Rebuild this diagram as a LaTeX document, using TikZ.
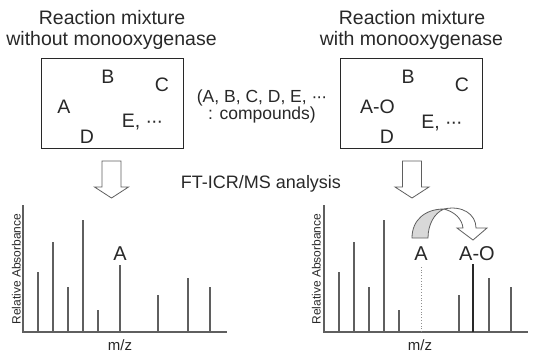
\documentclass[tikz,border=0pt]{standalone}
\usepackage{fontspec}
\setmainfont{Liberation Sans}
\definecolor{inkgray}{RGB}{40,40,40}
\definecolor{linegray}{RGB}{95,95,95}
\definecolor{fillgray}{RGB}{216,216,216}

\begin{document}
\begin{tikzpicture}[x=1pt,y=-1pt,
		lbl/.style={text=inkgray, inner sep=0pt, anchor=base},
		title/.style={lbl, font=\fontsize{19.5}{21}\selectfont},
		cmpd/.style={lbl, font=\fontsize{19.5}{21}\selectfont},
		note/.style={lbl, font=\fontsize{17.5}{18}\selectfont},
		peak/.style={lbl, font=\fontsize{20}{21}\selectfont},
		axislbl/.style={lbl, font=\fontsize{12}{13}\selectfont},
		mixbox/.style={draw=inkgray, line width=1pt, minimum width=142pt, minimum height=90pt, inner sep=0pt},
		bar/.style={linegray, line width=1.6pt},
		axis/.style={linegray, line width=1.8pt}]
		\useasboundingbox (0,0) rectangle (535,360);
		% titles
		\node[title] (titleL1) at (112,24) {Reaction mixture};
		\node[title] (titleL2) at (111.5,45) {without monooxygenase};
		\node[title] (titleR1) at (412,24) {Reaction mixture};
		\node[title] (titleR2) at (411.5,45) {with monooxygenase};
		% reaction mixtures
		\node[mixbox] (mixL) at (112,103) {};
		\node[mixbox] (mixR) at (411,103) {};
		\node[cmpd] (bL) at (108,83) {B};
		\node[cmpd] (cL) at (162,91) {C};
		\node[cmpd] (aL) at (64,113) {A};
		\node[cmpd] (eL) at (142.5,127) {E, ·\kern-1pt·\kern-1pt·};
		\node[cmpd] (dL) at (87,143) {D};
		\node[cmpd] (bR) at (408,83) {B};
		\node[cmpd] (cR) at (462,91) {C};
		\node[cmpd] (aoR) at (377.5,113) {A-O};
		\node[cmpd] (eR) at (442,128) {E, ·\kern-1pt·\kern-1pt·};
		\node[cmpd] (dR) at (387,143) {D};
		\node[note] (legend1) at (262,102) {(A, B, C, D, E, ·\kern-1pt·\kern-1pt·};
		\node[note] (legend2) at (262,119.5) {: compounds)};
		\node[note, font=\fontsize{18}{19}\selectfont] (analysis) at (261,188) {FT-ICR/MS analysis};
		% open arrows
		\foreach \ax in {111.5,412}{
			\draw[linegray, line width=0.8pt, fill=white] (\ax-9.5,161) -- (\ax+9.5,161) -- (\ax+9.5,187)
				-- (\ax+17,187) -- (\ax,198) -- (\ax-17,187) -- (\ax-9.5,187) -- cycle;
		}
		% spectra
		\foreach \ox in {0,301}{
			\draw[axis] (23+\ox,205) -- (23+\ox,332) -- (227+\ox,332);
			\foreach \px/\py in {38/272, 53/242, 68/287, 83/220, 98/310, 158/295, 188/278, 210/287}{
				\draw[bar] (\px+\ox,332) -- (\px+\ox,\py);
			}
		}
		\draw[bar] (120,332) -- (120,265);
		\draw[linegray!70, line width=0.8pt, dotted] (421,332) -- (421,265);
		\draw[inkgray, line width=2.2pt] (473,332) -- (473,264);
		\node[peak] (pkA) at (120,260) {A};
		\node[peak] (pkA2) at (421,260) {A};
		\node[peak] (pkAO) at (477,260) {A-O};
		\node[axislbl, font=\fontsize{15}{16}\selectfont] (mzL) at (120,350) {m/z};
		\node[axislbl, font=\fontsize{15}{16}\selectfont] (mzR) at (420,350) {m/z};
		\node[axislbl, rotate=90] (yL) at (20.5,269) {Relative Absorbance};
		\node[axislbl, rotate=90] (yR) at (320.5,269) {Relative Absorbance};
		% curved arrow A -> A-O
		\draw[linegray, line width=0.8pt, fill=fillgray] (412,238) .. controls (412,220) and (425,209) .. (444,209)
			.. controls (434,213) and (428,225) .. (428,238) -- cycle;
		\draw[linegray, line width=0.8pt, fill=white] (444,209) .. controls (462,205) and (476,214) .. (476,228)
			-- (487,228) -- (473,240) -- (457,228) -- (463,228) .. controls (462,219) and (455,212) .. (444,209);
\end{tikzpicture}
\end{document}
